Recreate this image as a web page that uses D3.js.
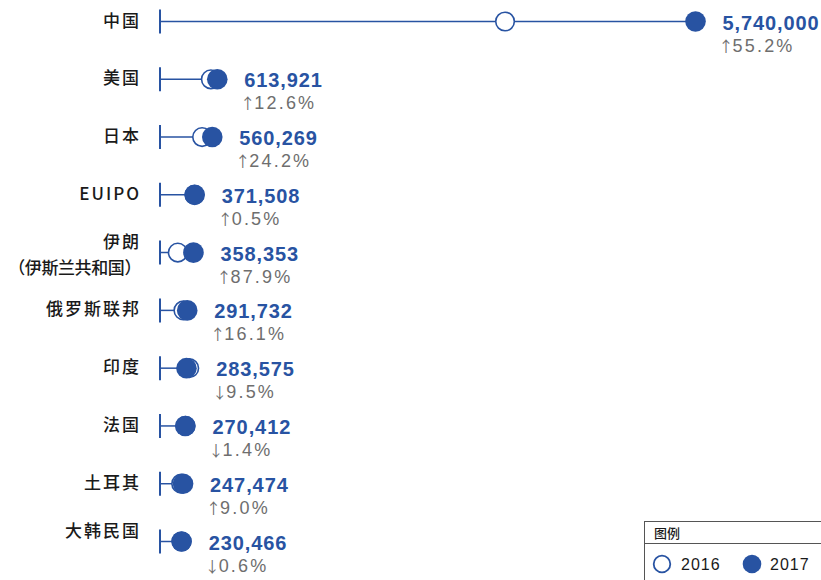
<!DOCTYPE html>
<html>
<head>
<meta charset="utf-8">
<script src="https://cdn.jsdelivr.net/npm/d3@7"></script>
<style>
  body { margin: 0; background: #fff; }
  svg { display: block; }
</style>
</head>
<body>
<div id="chart"></div>
<script>
// categories (multi-line labels as arrays)
var labels = [["中国"], ["美国"], ["日本"], ["EUIPO"], ["伊朗", "（伊斯兰共和国）"],
  ["俄罗斯联邦"], ["印度"], ["法国"], ["土耳其"], ["大韩民国", ""]];
var values2017 = [5740000, 613921, 560269, 371508, 358353, 291732, 283575, 270412, 247474, 230466];
var values2016 = [3698454, 545223, 451102, 369660, 190715, 251277, 313343, 274252, 227040, 231857];
var changes = ["↑55.2%", "↑12.6%", "↑24.2%", "↑0.5%", "↑87.9%", "↑16.1%", "↓9.5%", "↓1.4%", "↑9.0%", "↓0.6%"];
var legendYears = ["2016", "2017"];

var blue = "#2853a2";
var width = 821, height = 580;

var svg = d3.select("#chart")
  .append("svg")
  .attr("width", width)
  .attr("height", height);

var x = d3.scaleLinear()
  .domain([0, 5740000])
  .range([160, 695.5]);

var y = d3.scalePoint()
  .domain(d3.range(labels.length))
  .range([21.5, 541.5]);

var rows = svg.selectAll("g.row")
  .data(labels.map(function(l, i) {
    return {label: l, v17: values2017[i], v16: values2016[i], ch: changes[i], i: i};
  }))
  .enter()
  .append("g")
  .attr("class", "row")
  .attr("transform", function(d) { return "translate(0," + y(d.i) + ")"; });

// category labels
rows.append("text")
  .attr("x", 141)
  .attr("text-anchor", "end")
  .style("font-family", "'Noto Sans CJK SC', 'Liberation Sans', sans-serif")
  .style("font-size", "17px")
  .style("font-weight", 500)
  .style("fill", "#1a1a1a")
  .each(function(d) {
    var t = d3.select(this);
    var n = d.label.length;
    d.label.forEach(function(line, k) {
      var dy = n === 1 ? 5 : (k === 0 ? -5 : 21);
      t.append("tspan")
        .attr("x", 141)
        .attr("y", dy)
        .style("letter-spacing", k === 0 ? "2px" : "-0.4px")
        .text(line);
    });
  });

// axis tick at zero
rows.append("line")
  .attr("x1", x(0)).attr("x2", x(0))
  .attr("y1", -12).attr("y2", 12)
  .attr("stroke", blue)
  .attr("stroke-width", 2);

// connector line
rows.append("line")
  .attr("x1", x(0))
  .attr("x2", function(d) { return x(Math.max(d.v16, d.v17)); })
  .attr("y1", 0).attr("y2", 0)
  .attr("stroke", blue)
  .attr("stroke-width", 1.5);

// 2016 open circle
rows.append("circle")
  .attr("cx", function(d) { return x(d.v16); })
  .attr("cy", 0)
  .attr("r", 9.3)
  .attr("fill", "#fff")
  .attr("stroke", blue)
  .attr("stroke-width", 1.6);

// 2017 filled circle
rows.append("circle")
  .attr("cx", function(d) { return x(d.v17); })
  .attr("cy", 0)
  .attr("r", 10.3)
  .attr("fill", blue);

// value labels
rows.append("text")
  .attr("x", function(d) { return x(Math.max(d.v16, d.v17)) + 27; })
  .attr("y", 8)
  .style("font-family", "'Liberation Sans', Arial, sans-serif")
  .style("font-size", "20px")
  .style("font-weight", "bold")
  .style("letter-spacing", "0.9px")
  .style("fill", blue)
  .text(function(d) { return d3.format(",")(d.v17); });

// change labels (arrow + percent)
var ch = rows.append("text")
  .attr("x", function(d) { return x(Math.max(d.v16, d.v17)) + 23; })
  .attr("y", 30)
  .style("font-family", "'Liberation Sans', Arial, sans-serif")
  .style("font-size", "18px")
  .style("letter-spacing", "2.2px")
  .style("fill", "#6e6e6e");
ch.append("tspan")
  .style("font-family", "'Noto Sans CJK SC', sans-serif")
  .style("font-size", "15px")
  .style("letter-spacing", "0px")
  .text(function(d) { return d.ch.charAt(0); });
ch.append("tspan")
  .attr("dx", -1)
  .text(function(d) { return d.ch.slice(1); });

// legend
var legend = svg.append("g").attr("transform", "translate(644,521)");
legend.append("rect")
  .attr("x", 0.5).attr("y", 0.5)
  .attr("width", 200).attr("height", 80)
  .attr("fill", "#fff")
  .attr("stroke", "#555")
  .attr("stroke-width", 1);
legend.append("line")
  .attr("x1", 0).attr("x2", 200)
  .attr("y1", 22.5).attr("y2", 22.5)
  .attr("stroke", "#555");
legend.append("text")
  .attr("x", 10).attr("y", 17)
  .style("font-family", "'Noto Sans CJK SC', sans-serif")
  .style("font-size", "13px")
  .style("font-weight", 500)
  .style("fill", "#1a1a1a")
  .text("图例");

var items = legend.selectAll("g.item")
  .data(legendYears)
  .enter()
  .append("g")
  .attr("transform", function(d, i) { return "translate(" + (18 + i * 90) + ",43)"; });
items.append("circle")
  .attr("r", function(d, i) { return i === 0 ? 8.3 : 9.3; })
  .attr("fill", function(d, i) { return i === 0 ? "#fff" : blue; })
  .attr("stroke", function(d, i) { return i === 0 ? blue : "none"; })
  .attr("stroke-width", 1.8);
items.append("text")
  .attr("x", function(d, i) { return i === 0 ? 19 : 18; })
  .attr("y", 6)
  .style("font-family", "'Liberation Sans', Arial, sans-serif")
  .style("font-size", "16px")
  .style("letter-spacing", "1px")
  .style("fill", "#1a1a1a")
  .text(function(d) { return d; });
</script>
</body>
</html>
